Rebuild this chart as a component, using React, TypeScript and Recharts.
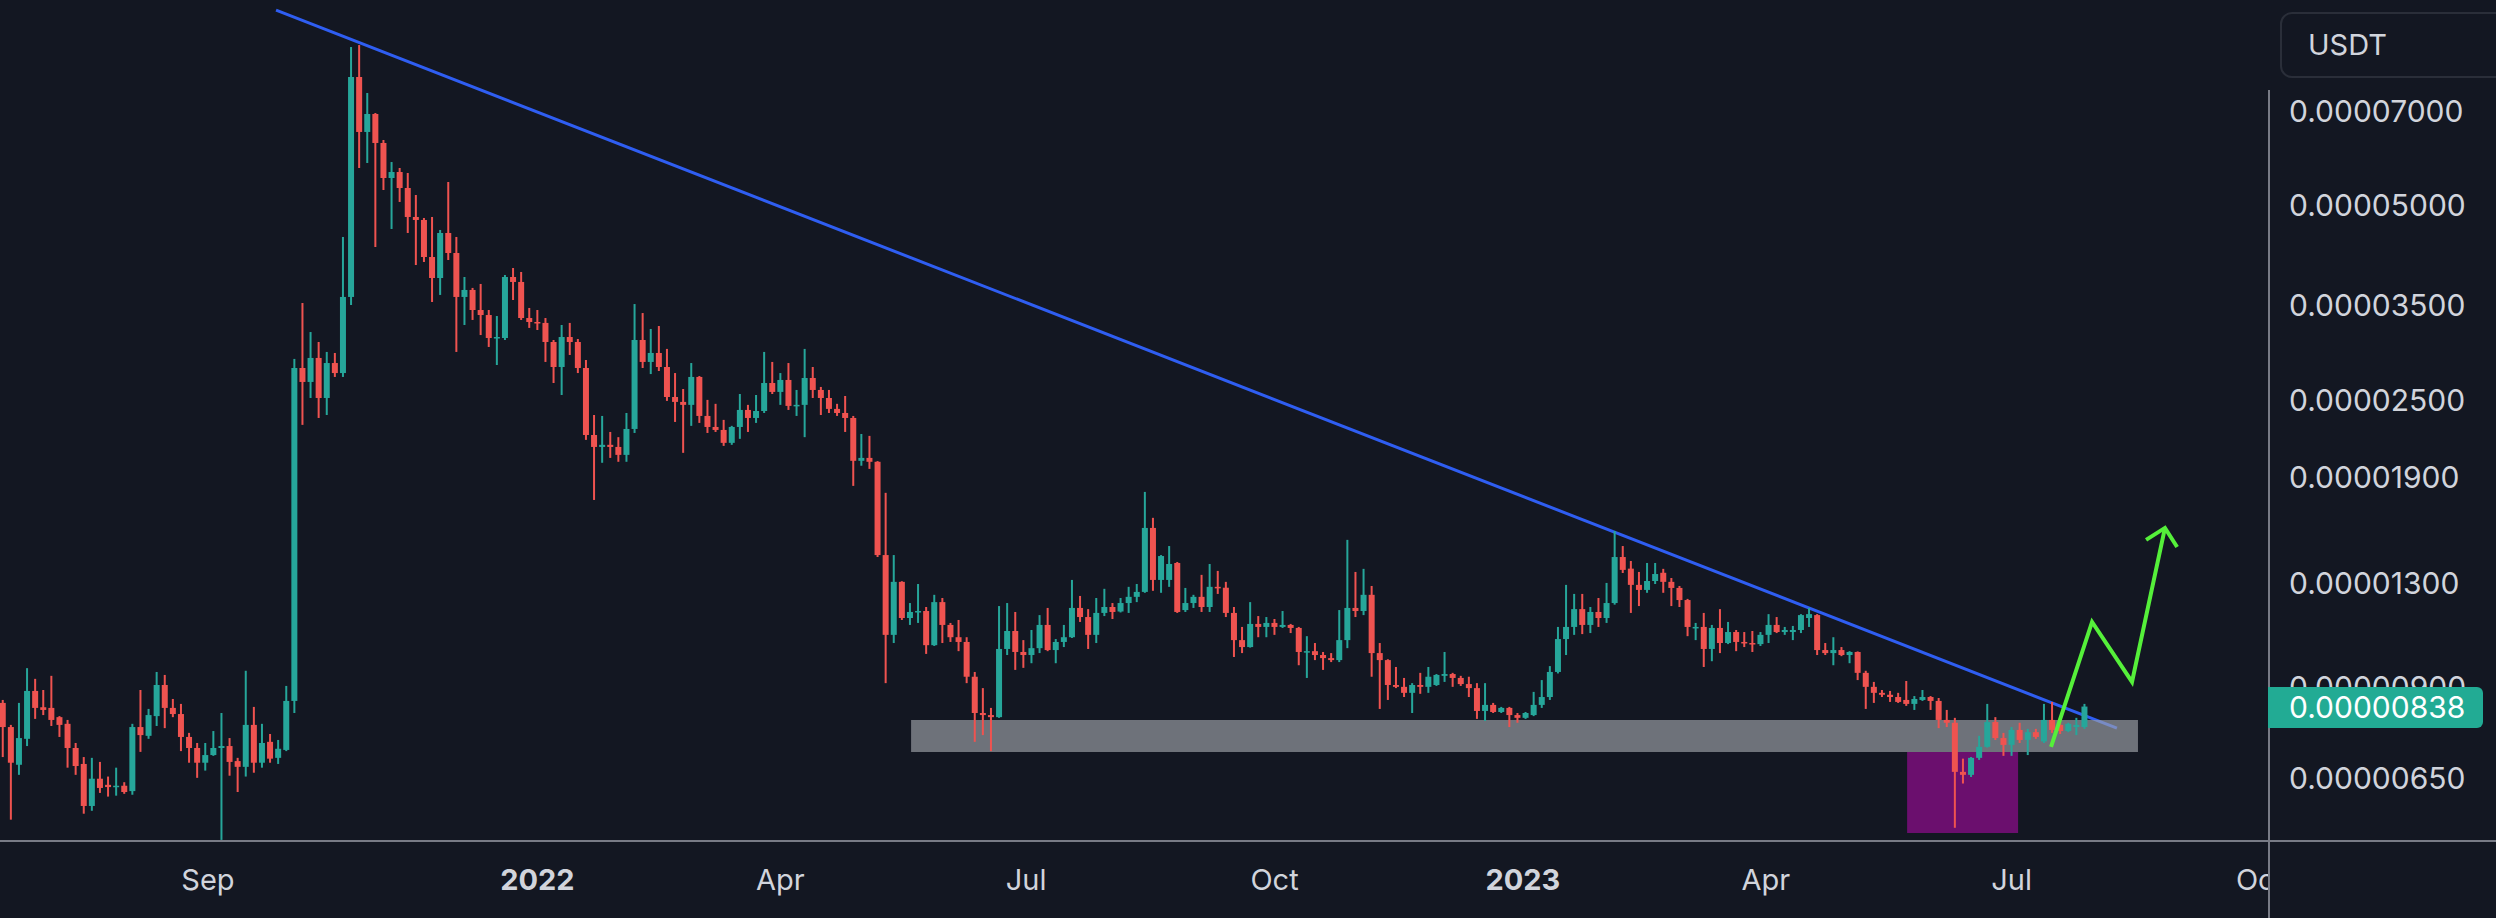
import React from "react";
import { ComposedChart, Bar, Line, XAxis, YAxis, ReferenceArea } from "recharts";

// 3-day candles, prices in units of 1e-8 USDT, day 0 = 1 Sep 2021
const firstDay = -76;
const stepDays = 3;

const openVals = [
  849, 779, 681, 747, 886, 836, 834, 807, 788, 723, 683, 588, 648, 634, 629, 632, 620, 779, 755, 810,
  905, 834, 816, 752, 723, 686, 705, 723, 728, 690, 676, 785, 686, 739, 698, 718, 855, 2801, 2665, 2903,
  2517, 2851, 2751, 3608, 7902, 6496, 6926, 6246, 5513, 5632, 5320, 4798, 4747, 4160, 3860, 4532, 4220, 3608, 3699, 3444,
  3383, 3117, 3117, 3874, 3806, 3347, 3300, 3289, 3073, 2811, 3128, 3073, 2801, 2206, 2114, 2130, 2114, 2055, 2254, 3095,
  2862, 2955, 2811, 2526, 2482, 2456, 2713, 2361, 2270, 2246, 2145, 2270, 2412, 2344, 2403, 2655, 2572, 2684, 2447, 2456,
  2703, 2590, 2517, 2421, 2386, 2344, 2012, 2033, 2005, 1438, 1082, 1307, 1149, 1174, 1178, 1043, 1216, 1121, 1073, 1055,
  932, 819, 813, 807, 1029, 1097, 1018, 1007, 1032, 1121, 1025, 1055, 1073, 1191, 1153, 1082, 1170, 1195, 1176, 1212,
  1239, 1261, 1584, 1316, 1316, 1398, 1182, 1212, 1239, 1195, 1284, 1280, 1170, 1062, 1036, 1125, 1113, 1129, 1113, 1121,
  1109, 1018, 1021, 1007, 996, 989, 1062, 1191, 1178, 1248, 1014, 989, 905, 899, 880, 905, 899, 905, 935, 941,
  928, 908, 895, 825, 843, 822, 834, 813, 805, 813, 843, 867, 948, 1066, 1113, 1186, 1121, 1174, 1149, 1212,
  1428, 1370, 1293, 1270, 1311, 1350, 1307, 1279, 1225, 1109, 1113, 1029, 1109, 1051, 1093, 1055, 1051, 1047, 1082, 1121,
  1093, 1093, 1101, 1149, 1161, 1025, 1014, 1025, 1007, 1018, 945, 899, 880, 874, 867, 858, 846, 858, 867, 855,
  799, 791, 664, 657, 698, 726, 793, 749, 731, 771, 744, 765, 740, 799, 785, 768, 779, 779,
];
const highVals = [
  858, 785, 849, 961, 925, 889, 935, 810, 799, 736, 700, 698, 688, 653, 674, 640, 788, 889, 831, 948,
  938, 861, 846, 763, 736, 736, 768, 819, 749, 698, 952, 837, 788, 760, 744, 902, 2893, 3531, 3184, 3073,
  2966, 2955, 4468, 8793, 8855, 7464, 6950, 6313, 5836, 5713, 5612, 5189, 4781, 4798, 4581, 5435, 4468, 3874, 3726, 3779,
  3444, 3371, 3902, 4000, 3944, 3469, 3444, 3347, 3095, 3265, 3289, 3106, 2882, 2369, 2361, 2230, 2189, 2386, 3518, 3407,
  3219, 3253, 2998, 2751, 2599, 2851, 2722, 2500, 2465, 2328, 2279, 2553, 2456, 2544, 2966, 2862, 2751, 2851, 2590, 2998,
  2811, 2618, 2590, 2465, 2535, 2361, 2214, 2199, 2010, 1795, 1438, 1310, 1212, 1297, 1195, 1248, 1234, 1129, 1141, 1073,
  948, 895, 834, 1199, 1212, 1174, 1062, 1101, 1161, 1191, 1066, 1121, 1316, 1243, 1186, 1234, 1275, 1212, 1234, 1284,
  1297, 1801, 1642, 1438, 1485, 1403, 1279, 1248, 1340, 1393, 1359, 1307, 1195, 1113, 1216, 1157, 1153, 1145, 1178, 1125,
  1113, 1077, 1051, 1018, 1014, 1182, 1518, 1354, 1369, 1288, 1051, 992, 965, 928, 911, 945, 965, 941, 1018, 945,
  935, 932, 911, 911, 849, 837, 837, 819, 822, 883, 921, 968, 1113, 1293, 1252, 1252, 1195, 1234, 1302, 1567,
  1485, 1408, 1354, 1398, 1398, 1369, 1325, 1288, 1230, 1129, 1170, 1121, 1186, 1133, 1101, 1093, 1097, 1093, 1165, 1153,
  1113, 1117, 1165, 1191, 1165, 1051, 1073, 1036, 1021, 1020, 952, 915, 889, 886, 880, 918, 870, 889, 870, 864,
  828, 805, 696, 700, 755, 846, 807, 763, 779, 791, 774, 774, 846, 852, 793, 791, 805, 846,
];
const lowVals = [
  700, 560, 657, 728, 802, 813, 782, 752, 674, 657, 572, 578, 616, 608, 610, 614, 612, 713, 747, 782,
  776, 807, 715, 686, 650, 667, 703, 521, 655, 618, 653, 662, 674, 686, 683, 715, 819, 2287, 2517, 2344,
  2369, 2713, 2713, 3506, 5713, 5816, 4311, 5282, 4597, 5062, 4532, 4043, 4087, 3544, 3634, 4116, 2966, 3265, 3324, 3150,
  3019, 2831, 3095, 3569, 3324, 3231, 3207, 2862, 2655, 2544, 2934, 2751, 2168, 1750, 1998, 2033, 2005, 2005, 2222, 2801,
  2741, 2771, 2491, 2311, 2070, 2279, 2303, 2222, 2230, 2122, 2130, 2176, 2230, 2303, 2386, 2553, 2456, 2412, 2361, 2189,
  2517, 2369, 2386, 2361, 2230, 1840, 1977, 1955, 1428, 911, 1051, 1141, 1121, 1129, 1011, 1040, 1051, 1055, 1021, 911,
  739, 757, 715, 805, 1007, 955, 962, 978, 1014, 1021, 978, 1036, 1070, 1133, 1029, 1051, 1157, 1145, 1172, 1170,
  1216, 1257, 1266, 1257, 1284, 1170, 1174, 1191, 1174, 1174, 1252, 1153, 1000, 1014, 1034, 1073, 1073, 1082, 1109, 1089,
  971, 928, 989, 955, 982, 982, 1032, 1153, 1161, 932, 831, 858, 895, 867, 819, 877, 880, 902, 915, 899,
  902, 867, 802, 796, 819, 819, 779, 791, 802, 810, 834, 858, 943, 1007, 1082, 1085, 1089, 1113, 1129, 1205,
  1349, 1170, 1199, 1257, 1297, 1257, 1199, 1195, 1077, 1062, 965, 985, 1014, 1047, 1021, 1036, 1018, 1040, 1051, 1089,
  1082, 1062, 1089, 1113, 1007, 1007, 971, 1003, 978, 921, 831, 849, 867, 852, 849, 840, 828, 855, 828, 776,
  779, 544, 637, 652, 693, 724, 744, 703, 703, 736, 705, 747, 736, 763, 760, 765, 757, 774,
];
const closeVals = [
  779, 686, 749, 886, 834, 828, 799, 785, 723, 678, 588, 648, 627, 629, 632, 618, 779, 757, 813, 905,
  834, 816, 752, 723, 686, 705, 723, 728, 688, 676, 785, 686, 736, 696, 721, 855, 2801, 2665, 2903, 2517,
  2851, 2751, 3608, 7902, 6496, 6926, 6246, 5513, 5632, 5320, 4798, 4747, 4160, 3860, 4532, 4220, 3608, 3699, 3444, 3383,
  3117, 3128, 3874, 3806, 3347, 3300, 3289, 3073, 2811, 3128, 3073, 2801, 2206, 2114, 2130, 2114, 2055, 2254, 3095, 2862,
  2955, 2811, 2526, 2482, 2456, 2713, 2361, 2270, 2246, 2145, 2270, 2412, 2344, 2403, 2655, 2572, 2684, 2447, 2456, 2703,
  2590, 2517, 2421, 2386, 2344, 2012, 2033, 2005, 1438, 1082, 1307, 1149, 1174, 1178, 1043, 1216, 1121, 1073, 1055, 932,
  819, 813, 807, 1029, 1097, 1018, 1007, 1032, 1121, 1025, 1055, 1073, 1191, 1153, 1082, 1170, 1195, 1174, 1212, 1239,
  1261, 1584, 1316, 1433, 1393, 1174, 1212, 1239, 1195, 1284, 1280, 1170, 1062, 1036, 1125, 1113, 1129, 1113, 1121, 1109,
  1018, 1021, 1007, 996, 989, 1062, 1191, 1178, 1248, 1014, 989, 905, 899, 880, 905, 899, 932, 938, 941, 928,
  908, 895, 825, 843, 822, 834, 813, 805, 819, 843, 867, 948, 1066, 1113, 1186, 1121, 1174, 1149, 1212, 1428,
  1364, 1293, 1270, 1311, 1344, 1307, 1279, 1225, 1113, 1113, 1029, 1109, 1051, 1093, 1055, 1051, 1047, 1082, 1121, 1093,
  1101, 1101, 1161, 1165, 1025, 1014, 1025, 1007, 1018, 945, 899, 880, 874, 867, 852, 846, 861, 867, 855, 799,
  791, 664, 657, 698, 726, 793, 749, 731, 771, 744, 765, 752, 799, 771, 768, 788, 785, 838,
];

const priceTicks = [650, 900, 1300, 1900, 2500, 3500, 5000, 7000];
const monthTicks = [0, 122, 212, 303, 395, 487, 577, 668, 760];
const monthLabels = ["Sep", "2022", "Apr", "Jul", "Oct", "2023", "Apr", "Jul", "Oct"];
const yearTicks = [122, 487];

// drawings
const trendLine = [
  { day: 25.2, v: 10030 },
  { day: 707, v: 776 },
];
const arrowPath = [
  { day: 682.6, v: 726 },
  { day: 697.8, v: 1133 },
  { day: 712.6, v: 915 },
  { day: 724.8, v: 1584 },
];
const arrowHead = [
  { day: 717.8, v: 1518 },
  { day: 724.8, v: 1584 },
  { day: 729.3, v: 1480 },
];
const supportZone = { x1: 260.4, x2: 714.8, y1: 713, y2: 799 };
const sweepZone = { x1: 629.3, x2: 670.4, y1: 534, y2: 713 };
const lastPrice = 838;

const candles = openVals.map((o, i) => ({
  day: firstDay + i * stepDays,
  open: o,
  high: highVals[i],
  low: lowVals[i],
  close: closeVals[i],
  range: [lowVals[i], highVals[i]],
}));

const BG = "#131722";
const UP = "#26a69a";
const DOWN = "#ef5350";
const TEXT = "#d1d4dc";
const AXIS = "#787b86";
const FONT = "Inter, Roboto, sans-serif";

const fmt = (v: number) => (v / 1e8).toFixed(8);

const Candle = (props: any) => {
  const { x, y, width, height, payload } = props;
  if (x == null || y == null || !payload) return null;
  const { open, close, high, low } = payload;
  const color = close >= open ? UP : DOWN;
  const lh = Math.log(high);
  const ll = Math.log(low);
  const span = lh - ll || 1;
  const toY = (v: number) => y + ((lh - Math.log(v)) / span) * height;
  const yo = toY(open);
  const yc = toY(close);
  const top = Math.min(yo, yc);
  const bodyH = Math.max(Math.abs(yo - yc), 1.5);
  const cx = x + width / 2;
  const bodyW = 6;
  return (
    <g>
      <rect x={cx - 1} y={y} width={2} height={Math.max(height, 1)} fill={color} />
      <rect x={cx - bodyW / 2} y={top} width={bodyW} height={bodyH} fill={color} />
    </g>
  );
};

const MonthTick = (props: any) => {
  const { x, y, payload } = props;
  const i = monthTicks.indexOf(payload.value);
  const bold = yearTicks.includes(payload.value);
  return (
    <text
      x={x}
      y={y + 41}
      textAnchor="middle"
      fill={TEXT}
      fontSize={29}
      fontWeight={bold ? 700 : 400}
      fontFamily={FONT}
    >
      {monthLabels[i]}
    </text>
  );
};

const PriceTick = (props: any) => {
  const { x, y, payload } = props;
  return (
    <text x={x + 13} y={y + 11} textAnchor="start" fill={TEXT} fontSize={30} fontFamily={FONT}>
      {fmt(payload.value)}
    </text>
  );
};

export default function App() {
  return (
    <div
      style={{
        position: "absolute",
        left: 0,
        top: 0,
        width: 2496,
        height: 918,
        background: BG,
        overflow: "hidden",
      }}
    >
      <ComposedChart
        width={2496}
        height={918}
        data={candles}
        margin={{ top: 0, right: 0, bottom: 0, left: 0 }}
      >
        <XAxis
          dataKey="day"
          type="number"
          domain={[-77.04, 762.96]}
          ticks={monthTicks}
          interval={0}
          tick={<MonthTick />}
          axisLine={false}
          tickLine={false}
          height={77}
          allowDataOverflow
        />
        <YAxis
          orientation="right"
          scale="log"
          domain={[519, 10397]}
          ticks={priceTicks}
          interval={0}
          tick={<PriceTick />}
          axisLine={false}
          tickLine={false}
          width={228}
          allowDataOverflow
        />
        <ReferenceArea
          x1={sweepZone.x1}
          x2={sweepZone.x2}
          y1={sweepZone.y1}
          y2={sweepZone.y2}
          fill="#6b0f6e"
          fillOpacity={1}
          stroke="none"
          zIndex={100}
        />
        <Line
          data={trendLine}
          dataKey="v"
          type="linear"
          stroke="#2f5ef2"
          strokeWidth={3}
          dot={false}
          activeDot={false}
          isAnimationActive={false}
          zIndex={150}
        />
        <ReferenceArea
          x1={supportZone.x1}
          x2={supportZone.x2}
          y1={supportZone.y1}
          y2={supportZone.y2}
          fill="#a0a3ab"
          fillOpacity={0.65}
          stroke="none"
          zIndex={200}
        />
        <Bar
          dataKey="range"
          barSize={6}
          shape={<Candle />}
          isAnimationActive={false}
          zIndex={300}
        />
        <Line
          data={arrowPath}
          dataKey="v"
          type="linear"
          stroke="#55f03a"
          strokeWidth={4}
          strokeLinejoin="miter"
          dot={false}
          activeDot={false}
          isAnimationActive={false}
          zIndex={400}
        />
        <Line
          data={arrowHead}
          dataKey="v"
          type="linear"
          stroke="#55f03a"
          strokeWidth={4}
          dot={false}
          activeDot={false}
          isAnimationActive={false}
          zIndex={400}
        />
      </ComposedChart>

      {/* hide the cut-off tail of the last month label */}
      <div style={{ position: "absolute", left: 2270, top: 842, width: 226, height: 76, background: BG }} />
      <div style={{ position: "absolute", left: 0, top: 840, width: 2496, height: 2, background: AXIS }} />
      <div style={{ position: "absolute", left: 2268, top: 90, width: 2, height: 828, background: AXIS }} />

      <div
        style={{
          position: "absolute",
          left: 2280,
          top: 12,
          width: 200,
          height: 62,
          border: "2px solid #2a2e39",
          borderRadius: 12,
          color: TEXT,
          fontFamily: FONT,
          fontSize: 29,
          lineHeight: "62px",
          paddingLeft: 26,
          boxSizing: "content-box",
        }}
      >
        USDT
      </div>

      <div
        style={{
          position: "absolute",
          left: 2268,
          top: 687,
          width: 215,
          height: 41,
          background: "#22ab94",
          borderRadius: "0 6px 6px 0",
          color: "#ffffff",
          fontFamily: FONT,
          fontSize: 30,
          lineHeight: "41px",
          paddingLeft: 21,
          boxSizing: "border-box",
        }}
      >
        {fmt(lastPrice)}
      </div>
    </div>
  );
}
